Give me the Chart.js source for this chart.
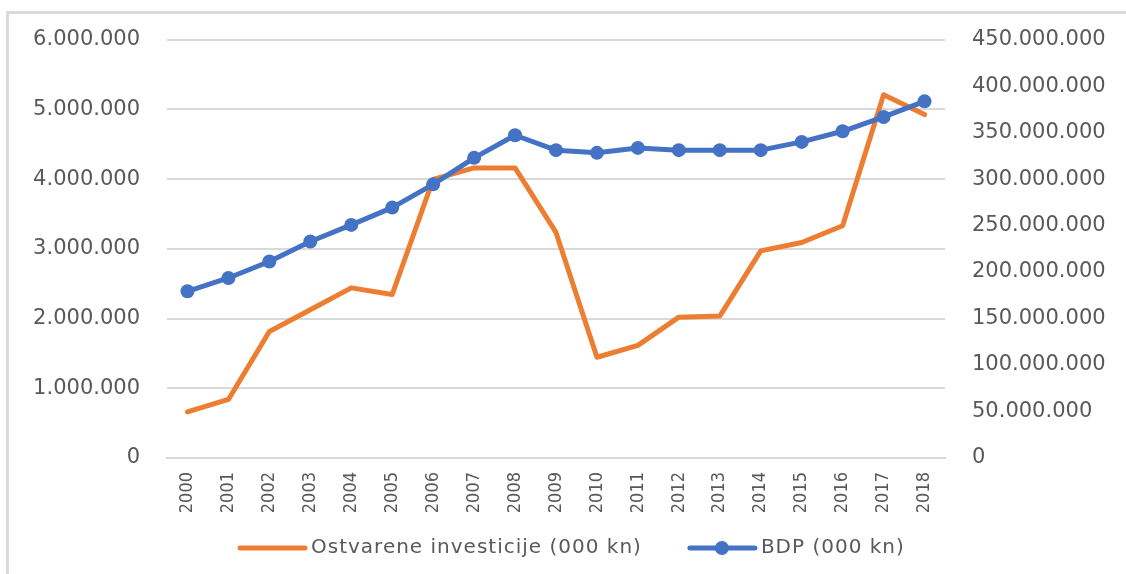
<!DOCTYPE html>
<html>
<head>
<meta charset="utf-8">
<script src="https://cdn.jsdelivr.net/npm/chart.js@4.4.1/dist/chart.umd.min.js"></script>
<style>
    body { margin: 0; background: #fff; }
    #frame {
        position: absolute; left: 6px; top: 11px; width: 1130px; height: 580px;
        border-left: 3px solid #dadada; border-top: 3px solid #dadada;
    }
    #wrap { position: absolute; left: 0; top: 0; width: 1126px; height: 574px; }
</style>
</head>
<body>
<div id="frame"></div>
<div id="wrap"><canvas id="chart"></canvas></div>
<script>
var years = ["2000", "2001", "2002", "2003", "2004", "2005", "2006", "2007", "2008", "2009",
             "2010", "2011", "2012", "2013", "2014", "2015", "2016", "2017", "2018"];

// Ostvarene investicije (000 kn) - lijeva os
var investicije = [660000, 840000, 1815000, 2125000, 2440000, 2345000, 3995000, 4160000, 4160000, 3235000,
                   1445000, 1615000, 2020000, 2035000, 2970000, 3090000, 3330000, 5210000, 4925000];

// BDP (000 kn) - desna os
var bdp = [179300000, 193600000, 211400000, 232800000, 250700000, 269300000, 294300000, 322800000, 347100000, 331100000,
           328200000, 333500000, 331100000, 331100000, 331100000, 340000000, 351400000, 366800000, 383600000];

var labelGrey = "#595959";
var gridGrey = "#d9d9d9";

function dots(v) {
    return String(v).replace(/\B(?=(\d{3})+(?!\d))/g, ".");
}

// legenda crtana rucno da bude kao u Excelu
var excelLegend = {
    id: "excelLegend",
    afterDraw: function (chart) {
        var ctx = chart.ctx;
        var ds = chart.data.datasets;
        var y = 548;
        var x = 240;
        ctx.save();
        ctx.font = "20px 'DejaVu Sans'";
        ctx.letterSpacing = "1px";
        ctx.textBaseline = "middle";
        for (var i = 0; i < ds.length; i++) {
            ctx.strokeStyle = ds[i].borderColor;
            ctx.lineWidth = 5;
            ctx.lineCap = "round";
            ctx.beginPath();
            ctx.moveTo(x, y);
            ctx.lineTo(x + 65, y);
            ctx.stroke();
            if (ds[i].pointRadius > 0) {
                ctx.fillStyle = ds[i].borderColor;
                ctx.beginPath();
                ctx.arc(x + 32, y, 7, 0, Math.PI * 2);
                ctx.fill();
            }
            ctx.fillStyle = labelGrey;
            ctx.fillText(ds[i].label, x + 71, y);
            x = x + 71 + ctx.measureText(ds[i].label).width + 48;
        }
        ctx.restore();
    }
};

var ctx = document.getElementById("chart").getContext("2d");

var myChart = new Chart(ctx, {
    type: "line",
    data: {
        labels: years,
        datasets: [
            {
                label: "Ostvarene investicije (000 kn)",
                data: investicije,
                yAxisID: "y",
                borderColor: "#ED7D31",
                backgroundColor: "#ED7D31",
                borderWidth: 5,
                pointRadius: 0,
                borderCapStyle: "round",
                borderJoinStyle: "round",
                order: 2
            },
            {
                label: "BDP (000 kn)",
                data: bdp,
                yAxisID: "y1",
                borderColor: "#4472C4",
                backgroundColor: "#4472C4",
                borderWidth: 5,
                pointRadius: 7,
                pointBorderWidth: 0,
                borderCapStyle: "round",
                borderJoinStyle: "round",
                order: 1
            }
        ]
    },
    options: {
        responsive: true,
        maintainAspectRatio: false,
        animation: false,
        layout: { padding: { top: 38, left: 0, right: 0, bottom: 0 } },
        plugins: {
            legend: { display: false },
            tooltip: { enabled: false }
        },
        scales: {
            x: {
                offset: true,
                grid: { display: false, drawTicks: false },
                border: { display: true, color: gridGrey, width: 2 },
                ticks: {
                    color: labelGrey,
                    font: { family: "'DejaVu Sans Condensed'", size: 18 },
                    minRotation: 90,
                    maxRotation: 90,
                    autoSkip: false,
                    padding: 14
                },
                afterFit: function (scale) { scale.height = 116; }
            },
            y: {
                position: "left",
                min: 0,
                max: 6000000,
                grid: { color: gridGrey, lineWidth: 2, drawTicks: false },
                border: { display: false },
                ticks: {
                    stepSize: 1000000,
                    color: labelGrey,
                    font: { family: "DejaVu Sans", size: 21 },
                    padding: 27,
                    callback: function (v) { return dots(v); }
                },
                afterFit: function (scale) { scale.width = 167; }
            },
            y1: {
                position: "right",
                min: 0,
                max: 450000000,
                grid: { display: false, drawTicks: false },
                border: { display: false },
                ticks: {
                    stepSize: 50000000,
                    color: labelGrey,
                    font: { family: "DejaVu Sans", size: 21 },
                    padding: 27,
                    callback: function (v) { return dots(v); }
                },
                afterFit: function (scale) { scale.width = 181; }
            }
        }
    },
    plugins: [excelLegend]
});
</script>
</body>
</html>
